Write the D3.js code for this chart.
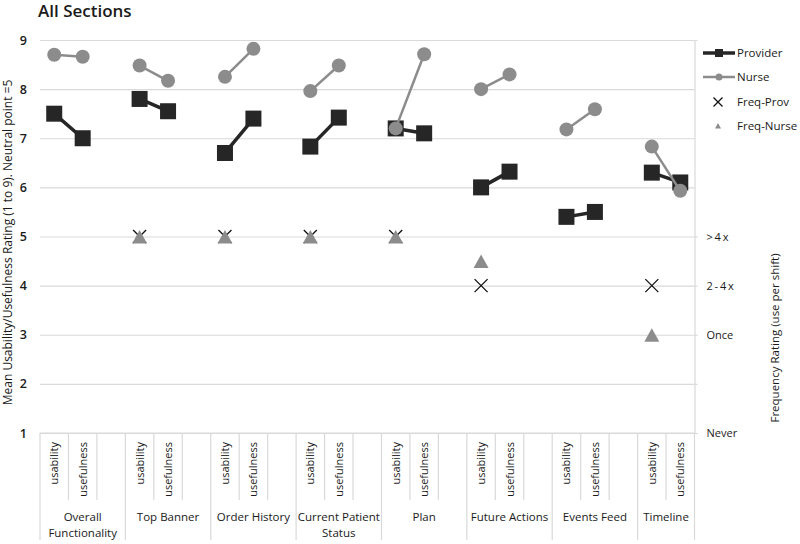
<!DOCTYPE html>
<html><head><meta charset="utf-8">
<script src="https://cdn.jsdelivr.net/npm/d3@7"></script>
<style>body{margin:0;background:#fff}svg{font-family:"Open Sans",sans-serif}</style>
</head><body><svg id="c" width="800" height="544"></svg>
<script>
const groups = ["Overall Functionality","Top Banner","Order History","Current Patient Status","Plan","Future Actions","Events Feed","Timeline"];
const groupLines = [["Overall","Functionality"],["Top Banner"],["Order History"],["Current Patient","Status"],["Plan"],["Future Actions"],["Events Feed"],["Timeline"]];
const measures = ["usability","usefulness"];
const providerUsability  = [7.5, 7.8, 6.7, 6.83, 7.2, 6.0, 5.4, 6.3];
const providerUsefulness = [7.0, 7.55, 7.4, 7.42, 7.1, 6.32, 5.5, 6.1];
const nurseUsability     = [8.7, 8.48, 8.25, 7.96, 7.2, 8.0, 7.18, 6.83];
const nurseUsefulness    = [8.66, 8.17, 8.82, 8.48, 8.71, 8.3, 7.59, 5.93];
const freqProv  = [null, 5, 5, 5, 5, 4, null, 4];
const freqNurse = [null, 5, 5, 5, 5, 4.5, null, 3];
const leftTicks = [1,2,3,4,5,6,7,8,9];
const rightTickValues = [5,4,3,2,1];
const rightTickLabels = [">\u20094\u2009x","2\u2009-\u20094\u2009x","Once","","Never"];
const legendLabels = ["Provider","Nurse","Freq-Prov","Freq-Nurse"];

const svg = d3.select("#c");
const L = 40, R = 694.5, T = 40, B = 433;
const txt = "#1a1a1a";

const slots = [];
groups.forEach((g,i)=>{
  measures.forEach(m=>slots.push(i+"|"+m));
  if (i < groups.length-1) slots.push(i+"|blank");
});
const x = d3.scaleBand().domain(slots).range([L,R]).padding(0);
const y = d3.scaleLinear().domain([1,9]).range([B,T]);
const cx = (i,m)=>x(i+"|"+m)+x.bandwidth()/2;

const grid = svg.append("g").attr("transform",`translate(${L},0)`)
  .call(d3.axisLeft(y).tickValues(leftTicks).tickSize(-(R-L)).tickFormat(""));
grid.select(".domain").remove();
grid.selectAll("line").attr("stroke","#d9d9d9").attr("stroke-width",1.2);

const la = svg.append("g").attr("transform",`translate(${L},0)`)
  .call(d3.axisLeft(y).tickValues(leftTicks).tickSize(0).tickPadding(13).tickFormat(d3.format("d")));
la.select(".domain").remove();
la.selectAll("text").attr("font-size",12.5).attr("font-weight",600).attr("fill",txt).attr("font-family","'Open Sans',sans-serif");

const ra = svg.append("g").attr("transform",`translate(${R},0)`)
  .call(d3.axisRight(y).tickValues(rightTickValues).tickSize(3).tickPadding(9)
    .tickFormat((d,i)=>rightTickLabels[i]));
ra.select(".domain").attr("stroke","#d9d9d9").attr("stroke-width",1.2);
ra.selectAll("line").attr("stroke","#d9d9d9").attr("stroke-width",1.2);
ra.selectAll("text").attr("font-size",11).attr("font-weight",500).attr("fill",txt).attr("font-family","'Open Sans',sans-serif");

const axG = svg.append("g");
const axC = "#d9d9d9";
axG.append("line").attr("x1",L).attr("x2",R).attr("y1",B).attr("y2",B).attr("stroke",axC).attr("stroke-width",1.2);
slots.forEach((s,k)=>{
  const xs = x(s);
  const isGroupStart = s.endsWith("|usability");
  axG.append("line").attr("x1",xs).attr("x2",xs).attr("y1",B).attr("y2",isGroupStart?540:500)
    .attr("stroke",axC).attr("stroke-width",1.2);
});
axG.append("line").attr("x1",R).attr("x2",R).attr("y1",B).attr("y2",540).attr("stroke",axC).attr("stroke-width",1.2);
groups.forEach((g,i)=>{
  measures.forEach(m=>{
    axG.append("text").attr("transform",`translate(${cx(i,m)+4},442) rotate(-90)`)
      .attr("text-anchor","end").attr("font-size",11).attr("font-weight",500).attr("fill",txt).text(m);
  });
  const gx0 = x(i+"|usability");
  const gx1 = i<groups.length-1 ? x(i+"|blank")+x.bandwidth() : R;
  const t = axG.append("text").attr("x",(gx0+gx1)/2).attr("y",521).attr("text-anchor","middle")
    .attr("font-size",11.5).attr("font-weight",500).attr("fill",txt);
  groupLines[i].forEach((ln,j)=>t.append("tspan").attr("x",(gx0+gx1)/2).attr("dy",j?16:0).text(ln));
});

const dark = "#262626", gray = "#8c8c8c";
function series(u, f, color, width, marker){
  const g = svg.append("g");
  groups.forEach((gn,i)=>{
    g.append("line").attr("x1",cx(i,"usability")).attr("y1",y(u[i]))
      .attr("x2",cx(i,"usefulness")).attr("y2",y(f[i])).attr("stroke",color).attr("stroke-width",width);
    [[ "usability",u[i]],["usefulness",f[i]]].forEach(([m,v])=>marker(g,cx(i,m),y(v)));
  });
}
const sq = (g,px,py)=>g.append("rect").attr("x",px-8).attr("y",py-8).attr("width",16).attr("height",16).attr("fill",dark);
const ci = (g,px,py)=>g.append("circle").attr("cx",px).attr("cy",py).attr("r",7).attr("fill",gray);
series(providerUsability, providerUsefulness, dark, 3.5, sq);
series(nurseUsability, nurseUsefulness, gray, 2.5, ci);

const fg = svg.append("g");
const cross = (g,px,py,s)=>g.append("path").attr("d",`M${px-s},${py-s}L${px+s},${py+s}M${px-s},${py+s}L${px+s},${py-s}`).attr("stroke","#111").attr("stroke-width",1.3).attr("fill","none");
const tri = (g,px,py,s)=>g.append("path").attr("d",`M${px},${py-s}L${px+s*1.0},${py+s*0.8}L${px-s*1.0},${py+s*0.8}Z`).attr("fill",gray);
groups.forEach((gn,i)=>{
  if (freqProv[i]!=null) cross(fg,cx(i,"usability"),y(freqProv[i]),6.5);
});
groups.forEach((gn,i)=>{
  if (freqNurse[i]!=null) tri(fg,cx(i,"usability"),y(freqNurse[i])+1,7.5);
});

const lg = svg.append("g").attr("font-size",11.5).attr("font-weight",500).attr("fill",txt);
const ly = [53,77,102,126];
lg.append("line").attr("x1",703).attr("x2",735).attr("y1",ly[0]).attr("y2",ly[0]).attr("stroke",dark).attr("stroke-width",3.5);
lg.append("rect").attr("x",715).attr("y",ly[0]-4).attr("width",8).attr("height",8).attr("fill",dark);
lg.append("line").attr("x1",703).attr("x2",735).attr("y1",ly[1]).attr("y2",ly[1]).attr("stroke",gray).attr("stroke-width",2.5);
lg.append("circle").attr("cx",719).attr("cy",ly[1]).attr("r",3.5).attr("fill",gray);
cross(lg,718,ly[2],4.5);
tri(lg,718,ly[3],3);
legendLabels.forEach((lab,k)=>lg.append("text").attr("x",737).attr("y",ly[k]).attr("dy","0.35em").text(lab));

svg.append("text").attr("x",38).attr("y",17).attr("font-size",17).attr("font-weight",600).attr("fill",txt).text("All Sections");
svg.append("text").attr("transform",`translate(12,${(T+B)/2+6}) rotate(-90)`).attr("text-anchor","middle")
  .attr("font-size",12).attr("font-weight",500).attr("fill",txt).text("Mean Usability/Usefulness Rating (1 to 9). Neutral point =5");
svg.append("text").attr("transform",`translate(779,338) rotate(-90)`).attr("text-anchor","middle")
  .attr("font-size",11.5).attr("font-weight",500).attr("fill",txt).text("Frequency Rating (use per shift)");
</script></body></html>
